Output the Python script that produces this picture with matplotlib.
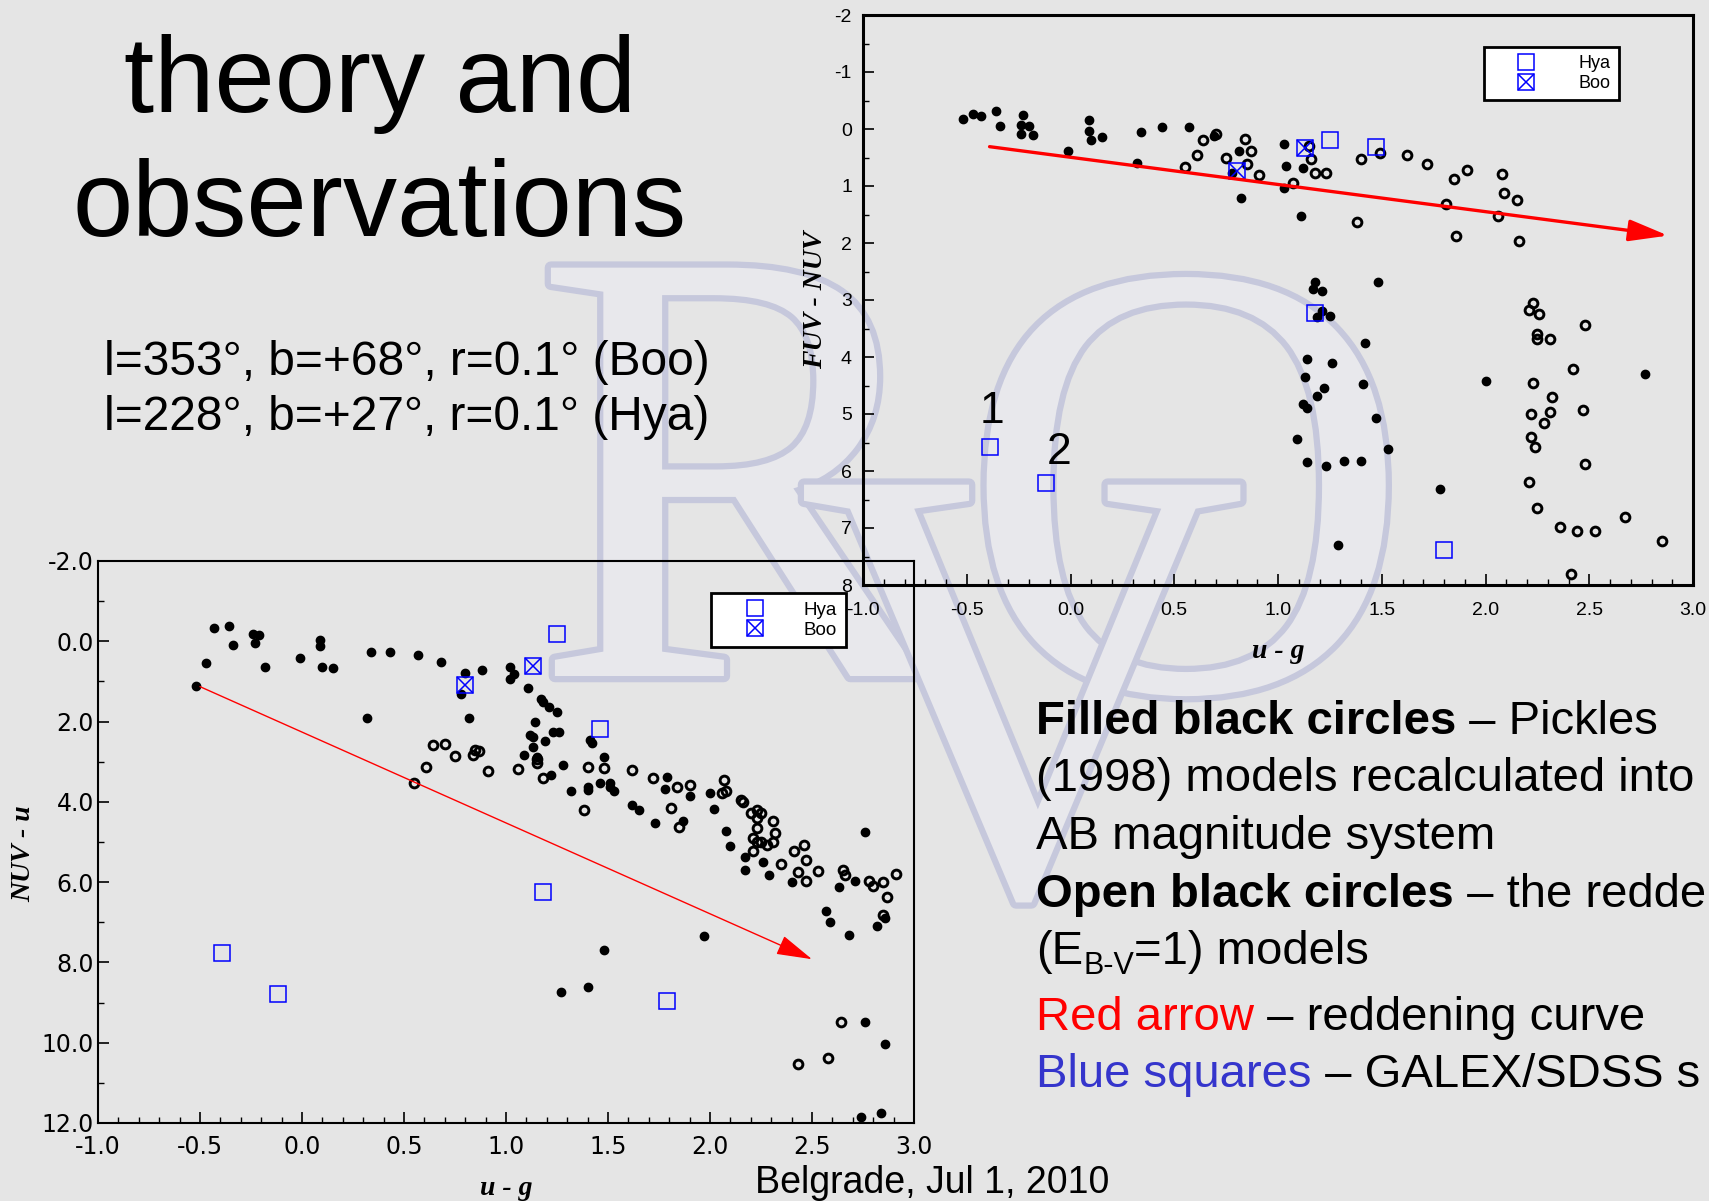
import matplotlib.pyplot as plt
import matplotlib.patheffects as pe
from matplotlib.ticker import MultipleLocator, FormatStrFormatter

plt.rcParams['font.family'] = ['Liberation Sans', 'DejaVu Sans']

# ---------------- data: upper panel (u-g vs FUV-NUV) ----------------
top_filled_x = [-0.52, -0.47, -0.43, -0.36, -0.34, -0.23, -0.24, -0.20, -0.24, -0.18,
                -0.01, 0.09, 0.09, 0.10, 0.15, 0.32, 0.34, 0.44, 0.57, 0.69,
                0.81, 0.82, 0.78, 1.03, 1.04, 1.03, 1.11, 1.12, 1.18, 1.17,
                1.21, 1.21, 1.19, 1.25, 1.48, 1.42, 1.14, 1.13, 1.26, 1.22,
                1.19, 1.41, 1.12, 1.14, 1.47, 1.09, 1.14, 1.23, 1.32, 1.40,
                1.53, 1.29, 1.78, 2.00, 2.77]
top_filled_y = [-0.17, -0.26, -0.22, -0.31, -0.05, -0.25, -0.07, -0.06, 0.09, 0.10,
                0.39, -0.15, 0.04, 0.19, 0.14, 0.59, 0.06, -0.04, -0.03, 0.12,
                0.38, 1.21, 0.78, 0.27, 0.65, 1.04, 1.53, 0.69, 2.69, 2.80,
                2.84, 3.19, 3.30, 3.28, 2.69, 3.75, 4.03, 4.35, 4.11, 4.55,
                4.68, 4.48, 4.82, 4.89, 5.07, 5.44, 5.85, 5.92, 5.82, 5.82,
                5.62, 7.29, 6.32, 4.42, 4.30]
top_open_x = [0.55, 0.61, 0.64, 0.70, 0.75, 0.84, 0.85, 0.87, 0.91, 1.07,
              1.15, 1.16, 1.18, 1.23, 1.38, 1.40, 1.49, 1.62, 1.72, 1.81,
              1.85, 1.86, 1.91, 2.06, 2.08, 2.09, 2.15, 2.16, 2.23, 2.21,
              2.26, 2.25, 2.25, 2.31, 2.48, 2.42, 2.23, 2.32, 2.31, 2.22,
              2.47, 2.28, 2.22, 2.24, 2.48, 2.21, 2.25, 2.36, 2.44, 2.53,
              2.67, 2.85, 2.41]
top_open_y = [0.67, 0.46, 0.19, 0.09, 0.50, 0.17, 0.62, 0.39, 0.81, 0.95,
              0.29, 0.53, 0.78, 0.77, 1.63, 0.53, 0.42, 0.45, 0.61, 1.32,
              0.88, 1.87, 0.72, 1.52, 0.79, 1.13, 1.24, 1.97, 3.06, 3.18,
              3.25, 3.60, 3.69, 3.69, 3.44, 4.21, 4.46, 4.71, 4.96, 5.00,
              4.93, 5.16, 5.41, 5.58, 5.88, 6.20, 6.65, 6.98, 7.06, 7.06,
              6.81, 7.23, 7.81]
top_hya_x = [1.25, 1.47, 1.18, -0.39, -0.12, 1.80]
top_hya_y = [0.20, 0.31, 3.23, 5.58, 6.21, 7.38]
top_boo_x = [1.13, 0.80]
top_boo_y = [0.33, 0.73]
top_arrow_start = (-0.39, 0.31)
top_arrow_end = (2.88, 1.87)
top_note_labels = ['1', '2']
top_note_x = [-0.38, -0.055]
top_note_y = [4.96, 5.68]

# ---------------- data: lower panel (u-g vs NUV-u) ----------------
bot_filled_x = [-0.52, -0.47, -0.43, -0.36, -0.34, -0.24, -0.23, -0.21, -0.18, -0.01,
                0.09, 0.09, 0.10, 0.15, 0.32, 0.34, 0.43, 0.57, 0.68, 0.80,
                0.78, 0.82, 0.88, 1.02, 1.02, 1.04, 1.11, 1.17, 1.18, 1.21,
                1.25, 1.14, 1.12, 1.13, 1.13, 1.19, 1.23, 1.26, 1.41, 1.42,
                1.09, 1.15, 1.28, 1.22, 1.48, 1.32, 1.40, 1.40, 1.46, 1.51,
                1.51, 1.53, 1.62, 1.65, 1.73, 1.79, 1.78, 1.90, 1.87, 2.00,
                2.02, 2.08, 2.10, 2.17, 2.17, 2.26, 2.29, 2.40, 2.63, 2.71,
                2.76, 2.57, 2.59, 2.68, 2.82, 2.86, 1.97, 1.48, 1.27, 1.40,
                2.76, 2.86, 2.74, 2.84]
bot_filled_y = [1.11, 0.54, -0.32, -0.38, 0.09, -0.19, 0.04, -0.15, 0.64, 0.41,
                -0.03, 0.12, 0.65, 0.66, 1.91, 0.26, 0.26, 0.35, 0.51, 0.78,
                1.32, 1.90, 0.71, 0.63, 0.95, 0.82, 1.16, 1.45, 1.52, 1.63,
                1.75, 2.00, 2.34, 2.38, 2.64, 2.48, 2.27, 2.25, 2.46, 2.54,
                2.84, 2.89, 3.09, 3.34, 2.89, 3.73, 3.70, 3.64, 3.54, 3.52,
                3.64, 3.73, 4.09, 4.21, 4.53, 3.37, 3.67, 3.86, 4.47, 3.79,
                4.18, 4.73, 5.11, 5.38, 5.69, 5.49, 5.83, 5.99, 6.11, 5.97,
                4.75, 6.71, 6.99, 7.32, 7.10, 6.90, 7.35, 7.68, 8.74, 8.61,
                9.48, 10.04, 11.84, 11.74]
bot_open_x = [0.55, 0.61, 0.64, 0.70, 0.75, 0.84, 0.85, 0.87, 0.91, 1.06,
              1.15, 1.15, 1.18, 1.38, 1.40, 1.48, 1.62, 1.72, 1.81, 1.84,
              1.85, 1.90, 2.06, 2.07, 2.08, 2.15, 2.16, 2.20, 2.23, 2.25,
              2.23, 2.23, 2.21, 2.23, 2.25, 2.28, 2.21, 2.31, 2.32, 2.31,
              2.35, 2.41, 2.43, 2.46, 2.47, 2.47, 2.53, 2.65, 2.66, 2.78,
              2.80, 2.85, 2.87, 2.91, 2.85, 2.64, 2.58, 2.43]
bot_open_y = [3.54, 3.13, 2.59, 2.57, 2.86, 2.84, 2.71, 2.73, 3.24, 3.18,
              2.94, 3.02, 3.41, 4.20, 3.14, 3.15, 3.21, 3.41, 4.16, 3.63,
              4.63, 3.57, 3.78, 3.46, 3.72, 3.95, 4.00, 4.29, 4.21, 4.29,
              4.39, 4.65, 4.89, 5.01, 4.99, 5.07, 5.22, 4.47, 4.78, 4.99,
              5.56, 5.22, 5.75, 5.07, 5.44, 5.97, 5.72, 5.69, 5.82, 5.97,
              6.09, 5.99, 6.37, 5.80, 6.81, 9.48, 10.38, 10.52]
bot_hya_x = [1.25, 1.46, 1.18, -0.39, -0.12, 1.79]
bot_hya_y = [-0.17, 2.18, 6.25, 7.76, 8.79, 8.95]
bot_boo_x = [1.13, 0.80]
bot_boo_y = [0.62, 1.09]
bot_arrow_start = (-0.50, 1.13)
bot_arrow_end = (2.50, 7.92)

# ---------------- figure ----------------
W, H = 1709, 1201
BG = '#e5e5e5'
BLUE = '#0000ff'
fig = plt.figure(figsize=(W / 100, H / 100), dpi=100)
fig.patch.set_facecolor(BG)


def px_rect(x0, y0, x1, y1):
    # pixel box (top-left origin) -> figure fraction rect
    return [x0 / W, 1 - y1 / H, (x1 - x0) / W, (y1 - y0) / H]


# watermark letters in the background
wm = fig.add_axes([0, 0, 1, 1], zorder=-1)
wm.set_xlim(0, W)
wm.set_ylim(H, 0)
wm.set_axis_off()
halo = [pe.Stroke(linewidth=9, foreground='#c6c8dc'), pe.Normal()]
for ch, x, y in [('R', 533, 676), ('O', 961, 690), ('V', 797, 893)]:
    wm.text(x, y, ch, fontsize=449, family='Liberation Serif', color='#e8e8ec',
            ha='left', va='baseline', path_effects=halo)


def style_axes(ax, xlim, ylim, ymaj, ymin, yfmt, lw, tickfont, ticksize, pad_x, pad_y):
    ax.set_facecolor('none')
    ax.set_xlim(*xlim)
    ax.set_ylim(*ylim)
    ax.xaxis.set_major_locator(MultipleLocator(0.5))
    ax.xaxis.set_minor_locator(MultipleLocator(0.1))
    ax.yaxis.set_major_locator(MultipleLocator(ymaj))
    ax.yaxis.set_minor_locator(MultipleLocator(ymin))
    ax.xaxis.set_major_formatter(FormatStrFormatter('%.1f'))
    ax.yaxis.set_major_formatter(FormatStrFormatter(yfmt))
    ax.tick_params(which='both', direction='in', top=False, right=False,
                   labelsize=ticksize, labelfontfamily=tickfont)
    ax.tick_params(which='major', length=8, width=1.2)
    ax.tick_params(which='minor', length=4, width=1.0)
    ax.tick_params(axis='x', pad=pad_x)
    ax.tick_params(axis='y', pad=pad_y)
    for s in ax.spines.values():
        s.set_linewidth(lw)


def add_points(ax, fx, fy, ox, oy, hx, hy, bx, by, sq):
    ax.plot(fx, fy, 'o', color='black', ms=6, ls='none', clip_on=False)
    ax.plot(ox, oy, 'o', mfc='none', mec='black', ms=6.3, mew=2.1, ls='none', clip_on=False)
    h = ax.plot(hx, hy, 's', mfc='none', mec=BLUE, ms=sq, mew=1.1, ls='none')[0]
    b1 = ax.plot(bx, by, 's', mfc='none', mec=BLUE, ms=sq, mew=1.1, ls='none')[0]
    b2 = ax.plot(bx, by, 'x', color=BLUE, ms=sq, mew=1.1, ls='none')[0]
    return h, (b1, b2)


def add_legend(ax, handles, left, top, fs, tpad):
    leg = ax.legend(handles, ['Hya', 'Boo'], loc='upper left',
                    bbox_to_anchor=(left / W, 1 - top / H), bbox_transform=fig.transFigure,
                    borderaxespad=0, fancybox=False, edgecolor='black', facecolor='white',
                    framealpha=1, fontsize=fs, handlelength=3.8, handletextpad=tpad,
                    borderpad=0.45, labelspacing=0.15, numpoints=1)
    leg.get_frame().set_linewidth(2)


axlab = dict(fontsize=20, fontweight='bold', fontstyle='italic', family='Liberation Serif')

# lower panel (drawn first, upper panel overlaps it)
ax2 = fig.add_axes(px_rect(98, 561, 914, 1123))
style_axes(ax2, (-1.0, 3.0), (12.0, -2.0), 2, 1, '%.1f', 1.5,
           'Liberation Sans Narrow', 17, 9, 3)
h2 = add_points(ax2, bot_filled_x, bot_filled_y, bot_open_x, bot_open_y,
                bot_hya_x, bot_hya_y, bot_boo_x, bot_boo_y, 12)
ax2.annotate('', xy=bot_arrow_end, xytext=bot_arrow_start,
             arrowprops=dict(arrowstyle='-|>,head_length=0.9,head_width=0.25',
                             color='#ff0000', lw=1.0, mutation_scale=25,
                             shrinkA=0, shrinkB=0))
ax2.set_xlabel('u - g', **axlab)
ax2.set_ylabel('NUV - u', **axlab)
ax2.xaxis.set_label_coords(0.5, -0.116)
ax2.yaxis.set_label_coords(-0.091, 0.48)
ax2.xaxis.label.set_va('center')
ax2.yaxis.label.set_va('center')
add_legend(ax2, list(h2), 711, 593, 13.5, 0.7)

# upper panel
ax1 = fig.add_axes(px_rect(863, 15, 1693, 585))
style_axes(ax1, (-1.0, 3.0), (8, -2), 1, 0.5, '%d', 2.2,
           'Liberation Sans', 14, 12, 8)
h1 = add_points(ax1, top_filled_x, top_filled_y, top_open_x, top_open_y,
                top_hya_x, top_hya_y, top_boo_x, top_boo_y, 12)
ax1.annotate('', xy=top_arrow_end, xytext=top_arrow_start,
             arrowprops=dict(arrowstyle='-|>,head_length=0.8,head_width=0.22',
                             color='#ff0000', lw=2.4, mutation_scale=30,
                             shrinkA=0, shrinkB=0))
for s, x, y in zip(top_note_labels, top_note_x, top_note_y):
    ax1.text(x, y, s, fontsize=32, ha='center', va='center')
ax1.set_xlabel('u - g', **axlab)
ax1.set_ylabel('FUV - NUV', **axlab)
ax1.xaxis.set_label_coords(0.5, -0.116)
ax1.yaxis.set_label_coords(-0.057, 0.5)
ax1.xaxis.label.set_va('center')
ax1.yaxis.label.set_va('center')
add_legend(ax1, list(h1), 1484, 47, 13, 1.0)

# ---------------- slide text ----------------
ov = fig.add_axes([0, 0, 1, 1], zorder=5)
ov.set_xlim(0, W)
ov.set_ylim(H, 0)
ov.set_axis_off()

ov.text(380, 112, 'theory and', fontsize=78, ha='center', va='baseline')
ov.text(380, 236, 'observations', fontsize=78, ha='center', va='baseline')
ov.text(104, 375, 'l=353°, b=+68°, r=0.1° (Boo)', fontsize=34.5, va='baseline')
ov.text(104, 430, 'l=228°, b=+27°, r=0.1° (Hya)', fontsize=34.5, va='baseline')
ov.text(755, 1193, 'Belgrade, Jul 1, 2010', fontsize=27, va='baseline')


def rich_line(x, y, parts, fs=34):
    t = ov.text(x, y, parts[0][0], fontsize=fs, va='baseline', **parts[0][1])
    for s, kw in parts[1:]:
        t = ov.annotate(s, xy=(1, 0), xycoords=t, va='bottom', ha='left',
                        fontsize=fs, **kw)
    return t


rich_line(1036, 734, [('Filled black circles', dict(fontweight='bold')),
                      (' \u2013 Pickles', {})])
rich_line(1036, 791, [('(1998) models recalculated into', {})])
rich_line(1036, 849, [('AB magnitude system', {})])
rich_line(1036, 907, [('Open black circles', dict(fontweight='bold')),
                      (' \u2013 the redde', {})])
tE = ov.text(1036, 964, '(E', fontsize=34, va='baseline')
tsub = ov.annotate('B-V', xy=(1, 0), xycoords=tE, xytext=(0, -5),
                   textcoords='offset points', va='bottom', ha='left', fontsize=22)
ov.annotate('=1) models', xy=(1, 0), xycoords=(tsub, tE), va='bottom', ha='left', fontsize=34)
rich_line(1036, 1030, [('Red arrow', dict(color='#ff0000')),
                       (' \u2013 reddening curve', {})])
rich_line(1036, 1087, [('Blue squares', dict(color='#3535cc')),
                       (' \u2013 GALEX/SDSS s', {})])

fig.savefig('out.png', dpi=100, facecolor=fig.get_facecolor())
